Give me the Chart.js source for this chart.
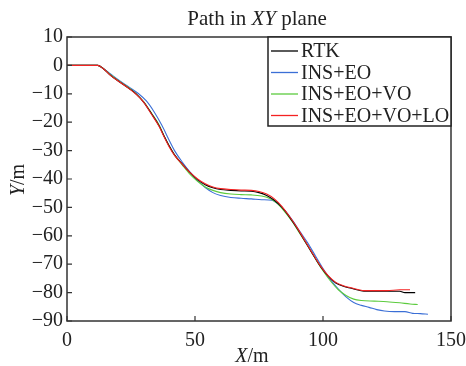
<!DOCTYPE html>
<html>
<head>
<meta charset="utf-8">
<script src="https://cdn.jsdelivr.net/npm/chart.js@4"></script>
<style>
  html, body { margin: 0; padding: 0; background: #fff; }
  #wrap { width: 466px; height: 366px; }
</style>
</head>
<body>
<div id="wrap"><canvas id="pathChart"></canvas></div>
<script>
// Path in XY plane
const xTicks = [0, 50, 100, 150];
const yTicks = [10, 0, -10, -20, -30, -40, -50, -60, -70, -80, -90];

const rtkX = [0, 5, 12, 14, 17, 20, 24, 27, 30, 33, 36, 38, 40, 42, 45, 48, 51, 54, 57, 60, 64, 68, 72, 75, 78, 81, 84, 87, 90, 93, 96, 99, 102, 105, 108, 111, 114, 116, 120, 125, 130, 132, 136];
const rtkY = [0, 0, 0, -1, -3.5, -5.5, -8, -10, -13, -17, -21.3, -25, -28.5, -31.5, -34.7, -37.7, -40.2, -42, -43.1, -43.7, -44, -44.2, -44.3, -44.8, -45.8, -47.5, -50, -53.5, -57.5, -62, -66.5, -70.8, -74.2, -76.6, -77.8, -78.5, -79.2, -79.5, -79.5, -79.5, -79.5, -80, -80];

const eoX = [0, 12, 14, 17, 20, 24, 28, 31, 34, 37, 40, 42, 45, 48, 51, 54, 57, 60, 64, 68, 72, 76, 80, 82, 85, 88, 91, 94, 97, 100, 103, 106, 109, 112, 115, 118, 121, 124, 128, 132, 135, 138, 141];
const eoY = [0, 0, -1, -3, -5, -7.5, -10, -12.5, -16.3, -21, -26.5, -30, -34, -37.5, -40.5, -43, -44.8, -45.8, -46.5, -46.8, -47, -47.3, -47.5, -48.5, -51, -54.5, -58.5, -62.5, -67, -71.5, -75.5, -78.8, -81.5, -83.5, -84.5, -85.2, -86, -86.5, -86.7, -86.7, -87.3, -87.4, -87.6];

const voX = [0, 12, 14, 17, 20, 24, 27, 30, 33, 36, 38, 40, 42, 45, 48, 51, 54, 57, 60, 64, 68, 72, 76, 79, 82, 85, 88, 91, 94, 97, 100, 103, 106, 109, 112, 115, 120, 125, 130, 134, 137];
const voY = [0, 0, -1, -3.3, -5.3, -7.8, -10, -12.8, -16.8, -21, -25, -28.5, -31.5, -35, -38.3, -40.8, -42.8, -44, -44.8, -45.3, -45.5, -45.6, -46, -46.8, -48.5, -51.5, -55, -59.3, -63.5, -68, -72.3, -76, -79, -81, -82.3, -82.8, -83, -83.2, -83.6, -84, -84.2];

const loX = [0, 12, 14, 17, 20, 24, 27, 30, 33, 36, 38, 40, 42, 45, 48, 51, 54, 57, 60, 64, 68, 72, 75, 78, 81, 84, 87, 90, 93, 96, 99, 102, 105, 108, 111, 114, 116, 120, 125, 130, 134];
const loY = [0, 0, -1, -3.5, -5.5, -8, -10.2, -13, -17.2, -21.5, -25.3, -28.8, -31.7, -34.8, -37.7, -40, -41.7, -42.8, -43.4, -43.7, -43.9, -44, -44.4, -45.3, -47, -49.7, -53.3, -57.3, -61.8, -66.3, -70.6, -74, -76.4, -77.6, -78.3, -79, -79.3, -79.3, -79.3, -79, -79];

const seriesNames = ['RTK', 'INS+EO', 'INS+EO+VO', 'INS+EO+VO+LO'];
const seriesColors = ['#000000', '#3b6fd6', '#5ccb3e', '#f42222'];

const serif = "'Liberation Serif', 'Times New Roman', serif";
const toPoints = (xs, ys) => xs.map((x, i) => ({ x: x, y: ys[i] }));
const allX = [rtkX, eoX, voX, loX];
const allY = [rtkY, eoY, voY, loY];
const drawOrder = [1, 3, 2, 0]; // vermelho por cima

// escreve texto com partes em itálico, centrado em cx
function mixedText(ctx, parts, cx, y, size) {
  let total = 0;
  parts.forEach(p => { ctx.font = p[1] + size + 'px ' + serif; total += ctx.measureText(p[0]).width; });
  let tx = cx - total / 2;
  ctx.textAlign = 'left';
  parts.forEach(p => {
    ctx.font = p[1] + size + 'px ' + serif;
    ctx.fillText(p[0], tx, y);
    tx += ctx.measureText(p[0]).width;
  });
}

// moldura, ticks internos, título, rótulos dos eixos e legenda
const decor = {
  id: 'decor',
  afterDraw(chart) {
    const ctx = chart.ctx;
    const a = chart.chartArea;
    const xs = chart.scales.x, ys = chart.scales.y;
    ctx.save();
    ctx.strokeStyle = '#333';
    ctx.lineWidth = 1.5;
    ctx.strokeRect(a.left, a.top, a.right - a.left, a.bottom - a.top);
    ctx.lineWidth = 1.2;
    ctx.beginPath();
    xTicks.forEach(v => {
      const px = xs.getPixelForValue(v);
      ctx.moveTo(px, a.bottom); ctx.lineTo(px, a.bottom - 5);
    });
    yTicks.forEach(v => {
      const py = ys.getPixelForValue(v);
      ctx.moveTo(a.left, py); ctx.lineTo(a.left + 5, py);
    });
    ctx.stroke();

    ctx.fillStyle = '#222';
    ctx.textBaseline = 'alphabetic';
    mixedText(ctx, [['Path in ', ''], ['XY', 'italic '], [' plane', '']], 257, 25, 21);
    mixedText(ctx, [['X', 'italic '], ['/m', '']], 252, 362, 20);

    ctx.save();
    ctx.translate(24, 180);
    ctx.rotate(-Math.PI / 2);
    mixedText(ctx, [['Y', 'italic '], ['/m', '']], 0, 0, 20);
    ctx.restore();

    // legenda
    const lx = 268, ly = a.top, lw = a.right - 268, lh = 89;
    ctx.fillStyle = '#fff';
    ctx.fillRect(lx, ly, lw, lh);
    ctx.strokeStyle = '#222';
    ctx.lineWidth = 1.5;
    ctx.strokeRect(lx, ly, lw, lh);
    ctx.font = '20px ' + serif;
    ctx.textBaseline = 'middle';
    ctx.textAlign = 'left';
    seriesNames.forEach((name, i) => {
      const yy = ly + 14 + i * 21.5;
      ctx.strokeStyle = seriesColors[i];
      ctx.lineWidth = 1.3;
      ctx.beginPath();
      ctx.moveTo(lx + 3, yy); ctx.lineTo(lx + 30, yy);
      ctx.stroke();
      ctx.fillStyle = '#222';
      ctx.fillText(name, lx + 33, yy + 1);
    });
    ctx.restore();
  }
};

new Chart(document.getElementById('pathChart'), {
  type: 'line',
  data: {
    datasets: seriesNames.map((name, i) => ({
      label: name,
      data: toPoints(allX[i], allY[i]),
      borderColor: seriesColors[i],
      borderWidth: 1.1,
      pointRadius: 0,
      cubicInterpolationMode: 'monotone',
      fill: false,
      order: drawOrder[i]
    }))
  },
  options: {
    responsive: true,
    maintainAspectRatio: false,
    animation: false,
    layout: { padding: { top: 37, right: 15, left: 0, bottom: 0 } },
    plugins: {
      legend: { display: false },
      tooltip: { enabled: false }
    },
    scales: {
      x: {
        type: 'linear',
        min: 0, max: 150,
        afterFit: s => { s.height = 45; s.paddingLeft = 0; s.paddingRight = 0; },
        afterBuildTicks: s => { s.ticks = xTicks.map(v => ({ value: v })); },
        grid: { display: false, drawTicks: false },
        border: { display: false },
        ticks: { color: '#222', padding: 8, maxRotation: 0, font: { family: serif, size: 20 } }
      },
      y: {
        type: 'linear',
        min: -90, max: 10,
        afterFit: s => { s.width = 67; s.paddingTop = 0; s.paddingBottom = 0; },
        afterBuildTicks: s => { s.ticks = yTicks.map(v => ({ value: v })); },
        grid: { display: false, drawTicks: false },
        border: { display: false },
        ticks: {
          color: '#222', padding: 4,
          font: { family: serif, size: 20 },
          callback: v => String(v).replace('-', '\u2212')
        }
      }
    }
  },
  plugins: [decor]
});
</script>
</body>
</html>
